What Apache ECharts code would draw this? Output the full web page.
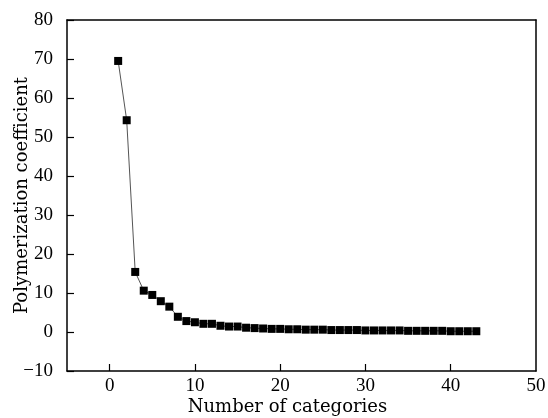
<!DOCTYPE html>
<html>
<head>
<meta charset="utf-8">
<script src="https://cdn.jsdelivr.net/npm/echarts@6/dist/echarts.min.js"></script>
<style>
  html, body { margin: 0; padding: 0; background: #fff; }
  #main { width: 548px; height: 418px; }
</style>
</head>
<body>
<div id="main"></div>
<script>
// 类别数
var categories = [1, 2, 3, 4, 5, 6, 7, 8, 9, 10, 11, 12, 13, 14, 15, 16, 17, 18, 19, 20, 21, 22,
  23, 24, 25, 26, 27, 28, 29, 30, 31, 32, 33, 34, 35, 36, 37, 38, 39, 40, 41, 42, 43];
// 聚合系数
var coefficients = [69.5, 54.3, 15.4, 10.6, 9.5, 7.9, 6.5, 3.9, 2.8, 2.5, 2.1, 2.1, 1.6, 1.4, 1.4,
  1.1, 1.0, 0.9, 0.8, 0.8, 0.7, 0.7, 0.6, 0.6, 0.6, 0.5, 0.5, 0.5, 0.5, 0.4, 0.4, 0.4, 0.4, 0.4,
  0.3, 0.3, 0.3, 0.3, 0.3, 0.2, 0.2, 0.2, 0.2];
// 刻度
var xTicks = [0, 10, 20, 30, 40];
var xLabels = [0, 10, 20, 30, 40, 50];

var nameFont = '"DejaVu Serif", serif';
var labelFont = '"Liberation Serif", serif';
var chart = echarts.init(document.getElementById('main'));

var points = [];
for (var i = 0; i < categories.length; i++) {
  points.push([categories[i], coefficients[i]]);
}

var frameAxis = {
  type: 'value',
  axisLine: { show: true, onZero: false, lineStyle: { color: '#000', width: 1.5 } },
  axisTick: { show: false }, axisLabel: { show: false }, splitLine: { show: false }
};

var option = {
  backgroundColor: '#fff',
  animation: false,
  grid: { left: 67, right: 12, top: 20, bottom: 47, containLabel: false, outerBoundsMode: 'none' },
  xAxis: [
    {
      type: 'value', min: -5, max: 50,
      name: 'Number of categories', nameLocation: 'middle', nameGap: 27, nameMoveOverlap: false,
      nameTextStyle: { color: '#000', fontFamily: nameFont, fontSize: 18, padding: [0, 28, 0, 0] },
      axisLine: { show: true, onZero: false, lineStyle: { color: '#000', width: 1.5 } },
      axisTick: { show: true, inside: true, length: 7, customValues: xTicks, lineStyle: { color: '#000', width: 1.2 } },
      axisLabel: { color: '#000', fontFamily: labelFont, fontSize: 19, margin: 6, customValues: xLabels },
      splitLine: { show: false }
    },
    Object.assign({}, frameAxis, { position: 'top', min: -5, max: 50 })
  ],
  yAxis: [
    {
      type: 'value', min: -10, max: 80, interval: 10,
      name: 'Polymerization coefficient', nameLocation: 'middle', nameGap: 36, nameMoveOverlap: false,
      nameTextStyle: { color: '#000', fontFamily: nameFont, fontSize: 18 },
      axisLine: { show: true, onZero: false, lineStyle: { color: '#000', width: 1.5 } },
      axisTick: { show: true, inside: true, length: 7, lineStyle: { color: '#000', width: 1.2 } },
      axisLabel: {
        color: '#000', fontFamily: labelFont, fontSize: 19, margin: 14,
        formatter: function (v) { return v < 0 ? '\u2212' + (-v) : v; }
      },
      splitLine: { show: false }
    },
    Object.assign({}, frameAxis, { position: 'right', min: -10, max: 80 })
  ],
  series: [
    {
      type: 'line',
      data: points,
      symbol: 'rect',
      symbolSize: 8,
      itemStyle: { color: '#000' },
      lineStyle: { color: '#555', width: 1 }
    }
  ]
};

chart.setOption(option);
</script>
</body>
</html>
